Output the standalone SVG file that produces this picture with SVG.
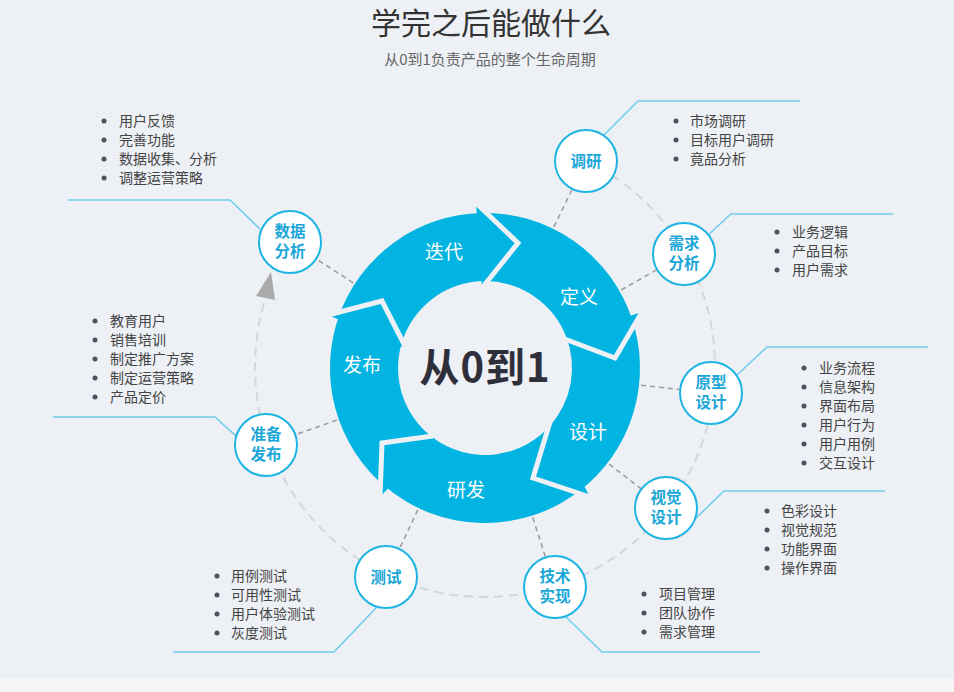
<svg xmlns="http://www.w3.org/2000/svg" width="954" height="692" viewBox="0 0 954 692">
<defs>
<style>
text{font-family:"Noto Sans CJK SC","Noto Sans",sans-serif}
.title{font-size:30px;fill:#333;text-anchor:middle}
.sub{font-size:15px;fill:#666;text-anchor:middle}
.seg{fill:#02B4E1}
.gap{fill:none;stroke:#EDF0F5;stroke-width:5;stroke-linejoin:miter;stroke-miterlimit:10}
.rl{font-size:19px;fill:#fff;text-anchor:middle}
.center{font-size:40px;font-weight:bold;fill:#2E2F3A;text-anchor:middle;letter-spacing:1px}
.nc{fill:#fff;stroke:#1CB4E3;stroke-width:2}
.nl{font-size:15.5px;font-weight:bold;fill:#1AA7D7;text-anchor:middle}
.li{font-size:14px;fill:#444}
.dot{fill:#4C5260}
.rad{stroke:#9A9A9A;stroke-width:1.5;stroke-dasharray:5 4;fill:none}
.orbit{stroke:#D3D6DB;stroke-width:2;stroke-dasharray:9 6;fill:none}
.call{stroke:#6DCDEC;stroke-width:1.5;fill:none}
</style>
</defs>
<rect x="0" y="0" width="954" height="692" fill="#EDF0F5"/>
<rect x="0" y="678" width="954" height="14" fill="#F5F5F5"/>
<text class="title" x="491" y="34">学完之后能做什么</text>
<text class="sub" x="490" y="65">从0到1负责产品的整个生命周期</text>

<g id="connectors">
<path class="orbit" d="M585.8,160.3 A230,230 0 1 1 265.5,298.5"/>
<polygon points="271,272 256,296 275,300" fill="#AAAAAA"/>
<line class="rad" x1="553.9" y1="226.9" x2="571.8" y2="190"/>
<line class="rad" x1="621.2" y1="290" x2="656.8" y2="269.6"/>
<line class="rad" x1="641" y1="385.3" x2="680" y2="389.6"/>
<line class="rad" x1="609.2" y1="464.1" x2="641.6" y2="489.2"/>
<line class="rad" x1="532.8" y1="517.6" x2="545.3" y2="556.6"/>
<line class="rad" x1="417.8" y1="509.9" x2="400.3" y2="546.9"/>
<line class="rad" x1="336.9" y1="420.1" x2="295.5" y2="434.7"/>
<line class="rad" x1="353.2" y1="282.8" x2="316.2" y2="258.9"/>
<polyline class="call" points="604,135 638,101 800,101"/>
<polyline class="call" points="708,235 731,214 893,214"/>
<polyline class="call" points="737,375 767,347 928,347"/>
<polyline class="call" points="695,519 724,491 885,491"/>
<polyline class="call" points="565,616 602,652 760,652"/>
<polyline class="call" points="376,608 334,652 173,652"/>
<polyline class="call" points="237,437 215,417 53,417"/>
<polyline class="call" points="260,229 230,200 68,200"/>
</g>

<g id="ring">
<path class="seg" d="M338.2,318.3 A155,155 0 0 1 482,213 L484.85,281 A87,87 0 0 0 400.7,346.7 Z"/>
<path class="seg" d="M476.6,213.2 A155,155 0 0 1 632.7,321.1 L567.1,339.2 A87,87 0 0 0 481.8,281.1 Z"/>
<path class="seg" d="M631,316 A155,155 0 0 1 578.5,491.6 L550,425.9 A87,87 0 0 0 566.1,336.4 Z"/>
<path class="seg" d="M582.8,488.3 A155,155 0 0 1 383.1,484.8 L432.9,437.7 A87,87 0 0 0 551.9,423.6 Z"/>
<path class="seg" d="M387.2,488.3 A155,155 0 0 1 340,313.2 L401.5,343.7 A87,87 0 0 0 435.3,439.4 Z"/>
<polygon class="seg" points="476,203 518,243 482,288"/>
<polygon class="seg" points="642,312 615,358 562,338"/>
<polygon class="seg" points="590,497 533,478 550,422"/>
<polygon class="seg" points="380,497 382,443 438.2,435.3"/>
<polygon class="seg" points="328,315 382,301 406,348"/>
<polyline class="gap" points="476,203 518,243 482,288"/>
<polyline class="gap" points="642,312 615,358 562,338"/>
<polyline class="gap" points="590,497 533,478 550,422"/>
<polyline class="gap" points="380,497 382,443 438.2,435.3"/>
<polyline class="gap" points="328,315 382,301 406,348"/>
<text class="rl" x="444" y="259">迭代</text>
<text class="rl" x="579" y="304">定义</text>
<text class="rl" x="588" y="439">设计</text>
<text class="rl" x="466" y="497">研发</text>
<text class="rl" x="362" y="372">发布</text>
<text class="center" x="485" y="382">从0到1</text>
</g>

<g id="node-diaoyan">
<circle class="nc" cx="586" cy="161" r="31"/>
<text class="nl" x="586" y="166.5">调研</text>
<circle class="dot" cx="676" cy="121" r="2.5"/><text class="li" x="690" y="126">市场调研</text>
<circle class="dot" cx="676" cy="140" r="2.5"/><text class="li" x="690" y="145">目标用户调研</text>
<circle class="dot" cx="676" cy="159" r="2.5"/><text class="li" x="690" y="164">竟品分析</text>
</g>

<g id="node-xuqiu">
<circle class="nc" cx="684" cy="254" r="31"/>
<text class="nl" x="684" y="249">需求</text>
<text class="nl" x="684" y="269">分析</text>
<circle class="dot" cx="777" cy="232" r="2.5"/><text class="li" x="792" y="237">业务逻辑</text>
<circle class="dot" cx="777" cy="251" r="2.5"/><text class="li" x="792" y="256">产品目标</text>
<circle class="dot" cx="777" cy="270" r="2.5"/><text class="li" x="792" y="275">用户需求</text>
</g>

<g id="node-yuanxing">
<circle class="nc" cx="711" cy="393" r="31"/>
<text class="nl" x="711" y="388">原型</text>
<text class="nl" x="711" y="408">设计</text>
<circle class="dot" cx="804" cy="368" r="2.5"/><text class="li" x="819" y="373">业务流程</text>
<circle class="dot" cx="804" cy="387" r="2.5"/><text class="li" x="819" y="392">信息架构</text>
<circle class="dot" cx="804" cy="406" r="2.5"/><text class="li" x="819" y="411">界面布局</text>
<circle class="dot" cx="804" cy="425" r="2.5"/><text class="li" x="819" y="430">用户行为</text>
<circle class="dot" cx="804" cy="444" r="2.5"/><text class="li" x="819" y="449">用户用例</text>
<circle class="dot" cx="804" cy="463" r="2.5"/><text class="li" x="819" y="468">交互设计</text>
</g>

<g id="node-shijue">
<circle class="nc" cx="666" cy="508" r="31"/>
<text class="nl" x="666" y="503">视觉</text>
<text class="nl" x="666" y="523">设计</text>
<circle class="dot" cx="767" cy="511" r="2.5"/><text class="li" x="781" y="516">色彩设计</text>
<circle class="dot" cx="767" cy="530" r="2.5"/><text class="li" x="781" y="535">视觉规范</text>
<circle class="dot" cx="767" cy="549" r="2.5"/><text class="li" x="781" y="554">功能界面</text>
<circle class="dot" cx="767" cy="568" r="2.5"/><text class="li" x="781" y="573">操作界面</text>
</g>

<g id="node-jishu">
<circle class="nc" cx="555" cy="587" r="31"/>
<text class="nl" x="555" y="582">技术</text>
<text class="nl" x="555" y="602">实现</text>
<circle class="dot" cx="644" cy="594" r="2.5"/><text class="li" x="659" y="599">项目管理</text>
<circle class="dot" cx="644" cy="613" r="2.5"/><text class="li" x="659" y="618">团队协作</text>
<circle class="dot" cx="644" cy="632" r="2.5"/><text class="li" x="659" y="637">需求管理</text>
</g>

<g id="node-ceshi">
<circle class="nc" cx="386" cy="577" r="31"/>
<text class="nl" x="386" y="582.5">测试</text>
<circle class="dot" cx="217" cy="576" r="2.5"/><text class="li" x="231" y="581">用例测试</text>
<circle class="dot" cx="217" cy="595" r="2.5"/><text class="li" x="231" y="600">可用性测试</text>
<circle class="dot" cx="217" cy="614" r="2.5"/><text class="li" x="231" y="619">用户体验测试</text>
<circle class="dot" cx="217" cy="633" r="2.5"/><text class="li" x="231" y="638">灰度测试</text>
</g>

<g id="node-zhunbei">
<circle class="nc" cx="266" cy="445" r="31"/>
<text class="nl" x="266" y="440">准备</text>
<text class="nl" x="266" y="460">发布</text>
<circle class="dot" cx="95" cy="321" r="2.5"/><text class="li" x="110" y="326">教育用户</text>
<circle class="dot" cx="95" cy="340" r="2.5"/><text class="li" x="110" y="345">销售培训</text>
<circle class="dot" cx="95" cy="359" r="2.5"/><text class="li" x="110" y="364">制定推广方案</text>
<circle class="dot" cx="95" cy="378" r="2.5"/><text class="li" x="110" y="383">制定运营策略</text>
<circle class="dot" cx="95" cy="397" r="2.5"/><text class="li" x="110" y="402">产品定价</text>
</g>

<g id="node-shuju">
<circle class="nc" cx="290" cy="242" r="31"/>
<text class="nl" x="290" y="237">数据</text>
<text class="nl" x="290" y="257">分析</text>
<circle class="dot" cx="104" cy="121" r="2.5"/><text class="li" x="119" y="126">用户反馈</text>
<circle class="dot" cx="104" cy="140" r="2.5"/><text class="li" x="119" y="145">完善功能</text>
<circle class="dot" cx="104" cy="159" r="2.5"/><text class="li" x="119" y="164">数据收集、分析</text>
<circle class="dot" cx="104" cy="178" r="2.5"/><text class="li" x="119" y="183">调整运营策略</text>
</g>
</svg>
